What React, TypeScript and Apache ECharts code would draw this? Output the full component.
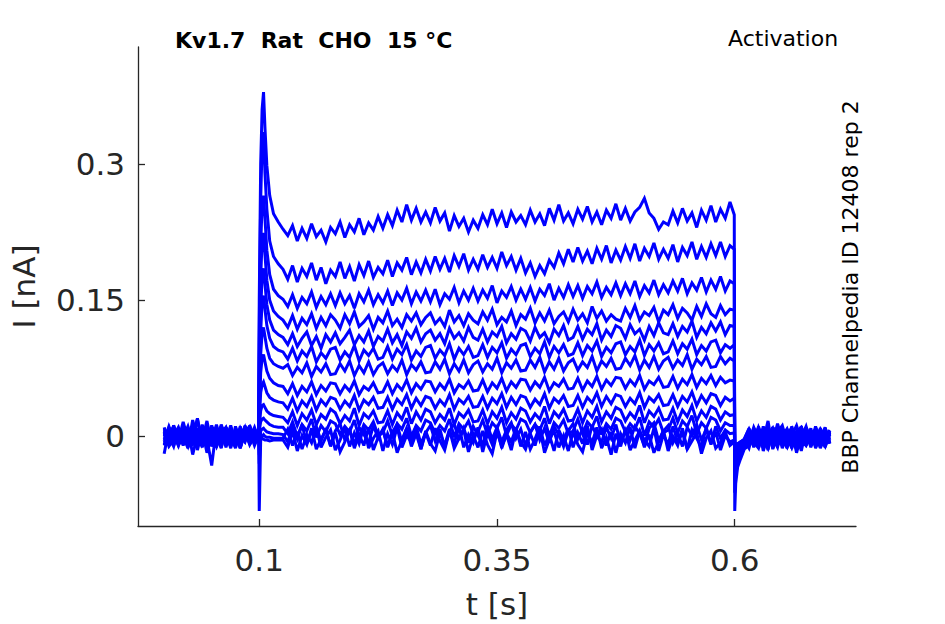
import React, { useEffect, useRef } from "react";
import * as echarts from "echarts";

// sample times [s]
const preTimes = [0, 0.005, 0.01, 0.015, 0.02, 0.025, 0.03, 0.035, 0.04, 0.045,
  0.05, 0.055, 0.06, 0.065, 0.07, 0.075, 0.08, 0.085, 0.09, 0.095];
const onsetTimes = [0.0995, 0.1, 0.1015, 0.103, 0.1045, 0.106, 0.108, 0.111, 0.115, 0.12, 0.125];
const plateauTimes = [
  0.13, 0.135, 0.14, 0.145, 0.15, 0.155, 0.16, 0.165, 0.17, 0.175,
  0.18, 0.185, 0.19, 0.195, 0.2, 0.205, 0.21, 0.215, 0.22, 0.225,
  0.23, 0.235, 0.24, 0.245, 0.25, 0.255, 0.26, 0.265, 0.27, 0.275,
  0.28, 0.285, 0.29, 0.295, 0.3, 0.305, 0.31, 0.315, 0.32, 0.325,
  0.33, 0.335, 0.34, 0.345, 0.35, 0.355, 0.36, 0.365, 0.37, 0.375,
  0.38, 0.385, 0.39, 0.395, 0.4, 0.405, 0.41, 0.415, 0.42, 0.425,
  0.43, 0.435, 0.44, 0.445, 0.45, 0.455, 0.46, 0.465, 0.47, 0.475,
  0.48, 0.485, 0.49, 0.495, 0.5, 0.505, 0.51, 0.515, 0.52, 0.525,
  0.53, 0.535, 0.54, 0.545, 0.55, 0.555, 0.56, 0.565, 0.57, 0.575,
  0.58, 0.585, 0.59, 0.595,
];
const offsetTimes = [0.5995, 0.6, 0.601, 0.603, 0.606, 0.61];
const postTimes = [0.615, 0.62, 0.625, 0.63, 0.635, 0.64, 0.645, 0.65, 0.655,
  0.66, 0.665, 0.67, 0.675, 0.68, 0.685, 0.69, 0.695, 0.7];
const times = [...preTimes, ...onsetTimes, ...plateauTimes, ...offsetTimes, ...postTimes];

// current [nA], one array per voltage step (pre | onset | plateau | offset | post)
const trace1 = [
  0.004, -0.008, 0.012, -0.003, 0.007, -0.011, 0.018, -0.002, 0.006, -0.009,
  0.003, -0.006, 0.010, -0.012, 0.005, 0.000, -0.007, 0.011, -0.004, 0.008,
  0.002, 0.15, 0.30, 0.36, 0.379, 0.34, 0.298, 0.265, 0.245, 0.236, 0.228,
  0.221, 0.232, 0.215, 0.229, 0.218, 0.234, 0.220, 0.227, 0.214, 0.230,
  0.223, 0.236, 0.219, 0.233, 0.225, 0.240, 0.222, 0.235, 0.227, 0.242,
  0.229, 0.244, 0.232, 0.249, 0.236, 0.255, 0.238, 0.251, 0.236, 0.247,
  0.235, 0.252, 0.237, 0.246, 0.226, 0.243, 0.231, 0.240, 0.225, 0.238,
  0.229, 0.244, 0.233, 0.250, 0.234, 0.246, 0.230, 0.247, 0.236, 0.243,
  0.233, 0.249, 0.236, 0.245, 0.232, 0.251, 0.238, 0.255, 0.237, 0.246,
  0.234, 0.250, 0.239, 0.253, 0.236, 0.247, 0.233, 0.249, 0.240, 0.256,
  0.238, 0.251, 0.237, 0.247, 0.252, 0.262, 0.246, 0.240, 0.228, 0.236,
  0.233, 0.248, 0.235, 0.251, 0.237, 0.246, 0.230, 0.249, 0.238, 0.254,
  0.236, 0.250, 0.240, 0.258,
  0.244, -0.082, -0.052, -0.034, -0.025, -0.014,
  -0.010, 0.003, -0.012, 0.008, -0.004, 0.010, -0.009, 0.002, -0.013,
  0.007, -0.002, 0.011, -0.007, 0.004, -0.011, 0.009, -0.003, 0.006,
];
const trace2 = [
  -0.003, 0.009, -0.010, 0.005, -0.001, 0.011, -0.007, 0.003, -0.012, 0.008,
  -0.004, 0.013, -0.006, 0.002, -0.009, 0.007, -0.013, 0.004, -0.002, 0.010,
  -0.004, 0.12, 0.26, 0.32, 0.335, 0.29, 0.25, 0.215, 0.198, 0.19, 0.184,
  0.173, 0.188, 0.170, 0.185, 0.176, 0.191, 0.172, 0.186, 0.168, 0.183,
  0.176, 0.192, 0.174, 0.187, 0.171, 0.189, 0.177, 0.193, 0.175, 0.186,
  0.179, 0.194, 0.176, 0.191, 0.183, 0.197, 0.178, 0.192, 0.180, 0.195,
  0.182, 0.198, 0.184, 0.196, 0.181, 0.199, 0.187, 0.201, 0.183, 0.195,
  0.184, 0.200, 0.186, 0.197, 0.185, 0.203, 0.188, 0.198, 0.183, 0.196,
  0.180, 0.191, 0.176, 0.188, 0.179, 0.194, 0.186, 0.202, 0.190, 0.206,
  0.192, 0.208, 0.193, 0.204, 0.190, 0.207, 0.195, 0.210, 0.191, 0.205,
  0.194, 0.209, 0.196, 0.212, 0.193, 0.207, 0.198, 0.213, 0.195, 0.206,
  0.196, 0.211, 0.192, 0.208, 0.199, 0.214, 0.195, 0.209, 0.197, 0.212,
  0.199, 0.214, 0.198, 0.210,
  0.206, -0.062, -0.042, -0.030, -0.022, -0.012,
  0.004, -0.011, 0.007, -0.005, 0.017, -0.014, 0.002, 0.008, -0.006,
  0.011, -0.009, 0.001, 0.006, -0.012, 0.003, -0.004, 0.010, -0.008,
];
const trace3 = [
  0.007, -0.004, 0.002, -0.010, 0.009, -0.001, 0.005, -0.008, 0.013, -0.003,
  0.001, -0.011, 0.006, 0.010, -0.005, 0.003, -0.009, 0.008, -0.002, 0.004,
  0.002, 0.10, 0.21, 0.255, 0.265, 0.24, 0.205, 0.178, 0.162, 0.155, 0.151,
  0.143, 0.156, 0.141, 0.153, 0.146, 0.159, 0.142, 0.154, 0.145, 0.157,
  0.144, 0.158, 0.146, 0.155, 0.141, 0.157, 0.148, 0.161, 0.145, 0.156,
  0.147, 0.160, 0.144, 0.158, 0.150, 0.163, 0.146, 0.159, 0.149, 0.161,
  0.148, 0.162, 0.145, 0.157, 0.151, 0.164, 0.147, 0.160, 0.150, 0.163,
  0.149, 0.161, 0.152, 0.166, 0.147, 0.160, 0.153, 0.165, 0.150, 0.162,
  0.151, 0.164, 0.149, 0.162, 0.155, 0.168, 0.150, 0.163, 0.153, 0.167,
  0.154, 0.166, 0.152, 0.165, 0.157, 0.170, 0.153, 0.164, 0.156, 0.169,
  0.155, 0.168, 0.157, 0.171, 0.154, 0.166, 0.158, 0.172, 0.156, 0.167,
  0.158, 0.171, 0.160, 0.174, 0.157, 0.169, 0.161, 0.175, 0.159, 0.172,
  0.162, 0.176, 0.160, 0.171,
  0.168, -0.048, -0.034, -0.026, -0.018, -0.010,
  -0.008, 0.005, -0.013, 0.009, -0.003, 0.006, -0.010, 0.002, 0.008,
  -0.007, 0.004, -0.012, 0.010, -0.001, -0.009, 0.005, -0.005, 0.003,
];
const trace4 = [
  -0.007, 0.003, 0.009, -0.005, 0.001, -0.013, 0.007, 0.002, -0.004, 0.017,
  -0.008, 0.004, -0.002, 0.009, -0.011, 0.006, 0.000, -0.006, 0.012, -0.003,
  -0.006, 0.08, 0.175, 0.215, 0.224, 0.20, 0.172, 0.15, 0.138, 0.132, 0.128,
  0.120, 0.133, 0.118, 0.130, 0.123, 0.135, 0.119, 0.131, 0.122, 0.134,
  0.128, 0.119, 0.134, 0.124, 0.137, 0.121, 0.126, 0.133, 0.118, 0.131,
  0.125, 0.138, 0.122, 0.129, 0.120, 0.134, 0.127, 0.136, 0.123, 0.131,
  0.136, 0.124, 0.130, 0.121, 0.139, 0.126, 0.133, 0.122, 0.135, 0.128,
  0.124, 0.137, 0.128, 0.140, 0.123, 0.131, 0.126, 0.138, 0.122, 0.134,
  0.129, 0.141, 0.125, 0.136, 0.127, 0.139, 0.124, 0.132, 0.137, 0.126,
  0.140, 0.128, 0.135, 0.125, 0.143, 0.130, 0.138, 0.127, 0.134, 0.129,
  0.127, 0.141, 0.131, 0.144, 0.128, 0.137, 0.133, 0.142, 0.126, 0.139,
  0.134, 0.145, 0.130, 0.141, 0.136, 0.128, 0.143, 0.132, 0.146, 0.135,
  0.131, 0.144, 0.134, 0.140,
  0.139, -0.038, -0.028, -0.021, -0.016, -0.009,
  0.003, -0.007, 0.010, -0.002, -0.013, 0.006, -0.004, 0.008, -0.009,
  0.001, 0.012, -0.005, -0.010, 0.004, 0.007, -0.008, 0.002, -0.003,
];
const trace5 = [
  0.009, -0.002, -0.006, 0.004, -0.010, 0.006, -0.003, 0.019, -0.007, 0.001,
  0.005, -0.012, 0.008, -0.001, 0.003, -0.009, 0.011, -0.004, 0.000, -0.006,
  0.004, 0.06, 0.14, 0.175, 0.185, 0.168, 0.145, 0.128, 0.117, 0.112, 0.109,
  0.101, 0.113, 0.099, 0.108, 0.115, 0.100, 0.110, 0.097, 0.112, 0.104,
  0.114, 0.102, 0.109, 0.117, 0.101, 0.111, 0.104, 0.116, 0.099, 0.110,
  0.105, 0.118, 0.103, 0.112, 0.100, 0.115, 0.108, 0.119, 0.104, 0.113,
  0.117, 0.106, 0.113, 0.102, 0.119, 0.108, 0.114, 0.105, 0.120, 0.109,
  0.106, 0.118, 0.104, 0.115, 0.110, 0.121, 0.103, 0.113, 0.107, 0.119,
  0.116, 0.105, 0.120, 0.109, 0.114, 0.103, 0.118, 0.111, 0.122, 0.106,
  0.109, 0.121, 0.107, 0.118, 0.112, 0.124, 0.106, 0.117, 0.110, 0.122,
  0.119, 0.108, 0.123, 0.113, 0.118, 0.106, 0.121, 0.111, 0.125, 0.114,
  0.112, 0.124, 0.110, 0.121, 0.115, 0.127, 0.109, 0.120, 0.113, 0.125,
  0.116, 0.126, 0.112, 0.122,
  0.121, -0.032, -0.024, -0.018, -0.013, -0.008,
  -0.004, 0.009, -0.010, 0.002, 0.007, -0.006, 0.011, -0.008, 0.001,
  -0.012, 0.005, 0.008, -0.003, -0.009, 0.006, 0.000, -0.007, 0.004,
];
const trace6 = [
  -0.010, 0.005, 0.001, 0.010, -0.004, -0.008, 0.004, -0.001, 0.007, -0.018,
  0.002, 0.009, -0.006, 0.003, -0.011, 0.006, -0.002, 0.010, -0.008, 0.001,
  -0.002, 0.045, 0.115, 0.148, 0.155, 0.14, 0.122, 0.108, 0.099, 0.095, 0.093,
  0.085, 0.097, 0.083, 0.094, 0.088, 0.099, 0.082, 0.092, 0.086, 0.096,
  0.098, 0.084, 0.093, 0.087, 0.100, 0.083, 0.095, 0.089, 0.097, 0.085,
  0.087, 0.099, 0.085, 0.096, 0.090, 0.101, 0.084, 0.094, 0.088, 0.098,
  0.100, 0.086, 0.095, 0.089, 0.102, 0.085, 0.097, 0.090, 0.099, 0.087,
  0.089, 0.101, 0.087, 0.098, 0.092, 0.103, 0.086, 0.096, 0.090, 0.100,
  0.102, 0.088, 0.097, 0.091, 0.104, 0.087, 0.099, 0.092, 0.101, 0.089,
  0.091, 0.103, 0.089, 0.100, 0.094, 0.105, 0.088, 0.098, 0.092, 0.102,
  0.104, 0.090, 0.099, 0.093, 0.106, 0.089, 0.101, 0.094, 0.103, 0.091,
  0.093, 0.105, 0.091, 0.102, 0.096, 0.107, 0.090, 0.100, 0.094, 0.104,
  0.106, 0.092, 0.101, 0.097,
  0.101, -0.027, -0.021, -0.016, -0.012, -0.007,
  0.006, -0.011, 0.003, -0.005, 0.010, -0.013, 0.004, -0.002, 0.008,
  -0.007, 0.001, 0.009, -0.010, 0.005, -0.004, 0.007, -0.012, 0.002,
];
const trace7 = [
  0.002, -0.009, 0.006, -0.001, 0.011, -0.005, -0.009, 0.005, 0.000, 0.008,
  -0.003, 0.004, -0.012, 0.007, 0.001, -0.006, 0.009, -0.002, 0.005, -0.010,
  0.001, 0.035, 0.09, 0.114, 0.12, 0.11, 0.097, 0.086, 0.08, 0.077, 0.075,
  0.079, 0.067, 0.076, 0.070, 0.081, 0.066, 0.077, 0.071, 0.080, 0.068,
  0.069, 0.080, 0.072, 0.083, 0.067, 0.078, 0.070, 0.082, 0.068, 0.077,
  0.081, 0.069, 0.078, 0.072, 0.084, 0.068, 0.079, 0.073, 0.082, 0.070,
  0.071, 0.082, 0.074, 0.085, 0.069, 0.080, 0.072, 0.084, 0.070, 0.079,
  0.083, 0.071, 0.080, 0.074, 0.086, 0.070, 0.081, 0.075, 0.084, 0.072,
  0.073, 0.084, 0.076, 0.087, 0.071, 0.082, 0.074, 0.086, 0.072, 0.081,
  0.085, 0.073, 0.082, 0.076, 0.088, 0.072, 0.083, 0.077, 0.086, 0.074,
  0.075, 0.086, 0.078, 0.089, 0.073, 0.084, 0.076, 0.088, 0.074, 0.083,
  0.087, 0.075, 0.084, 0.078, 0.090, 0.074, 0.085, 0.079, 0.088, 0.076,
  0.077, 0.088, 0.080, 0.086,
  0.083, -0.023, -0.018, -0.014, -0.010, -0.006,
  -0.009, 0.004, 0.008, -0.012, 0.001, 0.009, -0.007, 0.005, -0.011,
  0.003, -0.004, 0.010, -0.008, 0.002, 0.006, -0.013, 0.000, 0.007,
];
const trace8 = [
  0.007, 0.000, -0.011, 0.008, -0.006, 0.003, 0.010, -0.008, 0.005, -0.004,
  0.012, -0.002, -0.009, 0.004, 0.001, -0.013, 0.006, -0.005, 0.009, -0.001,
  -0.003, 0.025, 0.07, 0.086, 0.09, 0.082, 0.072, 0.064, 0.059, 0.056, 0.055,
  0.047, 0.058, 0.045, 0.055, 0.049, 0.060, 0.046, 0.056, 0.050, 0.059,
  0.058, 0.047, 0.056, 0.050, 0.061, 0.046, 0.055, 0.051, 0.059, 0.048,
  0.049, 0.060, 0.047, 0.057, 0.051, 0.062, 0.048, 0.058, 0.052, 0.061,
  0.060, 0.049, 0.058, 0.052, 0.063, 0.048, 0.057, 0.053, 0.061, 0.050,
  0.051, 0.062, 0.049, 0.059, 0.053, 0.064, 0.050, 0.060, 0.054, 0.063,
  0.062, 0.051, 0.060, 0.054, 0.065, 0.050, 0.059, 0.055, 0.063, 0.052,
  0.053, 0.064, 0.051, 0.061, 0.055, 0.066, 0.052, 0.062, 0.056, 0.065,
  0.064, 0.053, 0.062, 0.056, 0.067, 0.052, 0.061, 0.057, 0.065, 0.054,
  0.055, 0.066, 0.053, 0.063, 0.057, 0.068, 0.054, 0.064, 0.058, 0.067,
  0.056, 0.065, 0.059, 0.062,
  0.061, -0.020, -0.016, -0.013, -0.009, -0.005,
  0.002, -0.006, -0.013, 0.007, -0.003, 0.010, -0.009, 0.001, 0.006,
  -0.011, 0.004, -0.002, 0.008, -0.007, 0.003, -0.010, 0.009, -0.004,
];
const trace9 = [
  -0.005, 0.011, -0.002, -0.007, 0.004, 0.009, -0.020, 0.001, 0.006, -0.008,
  0.003, -0.010, 0.007, -0.003, 0.012, -0.006, 0.002, 0.008, -0.009, 0.005,
  0.005, 0.018, 0.048, 0.057, 0.06, 0.055, 0.048, 0.043, 0.04, 0.038, 0.037,
  0.030, 0.042, 0.028, 0.039, 0.033, 0.044, 0.029, 0.040, 0.034, 0.043,
  0.041, 0.030, 0.039, 0.033, 0.045, 0.029, 0.040, 0.035, 0.043, 0.031,
  0.032, 0.043, 0.030, 0.041, 0.035, 0.046, 0.031, 0.042, 0.034, 0.044,
  0.042, 0.031, 0.040, 0.034, 0.046, 0.030, 0.041, 0.036, 0.044, 0.032,
  0.033, 0.044, 0.031, 0.042, 0.036, 0.047, 0.032, 0.043, 0.035, 0.045,
  0.043, 0.032, 0.041, 0.035, 0.047, 0.031, 0.042, 0.037, 0.045, 0.033,
  0.034, 0.045, 0.032, 0.043, 0.037, 0.048, 0.033, 0.044, 0.036, 0.046,
  0.044, 0.033, 0.042, 0.036, 0.048, 0.032, 0.043, 0.038, 0.046, 0.034,
  0.035, 0.046, 0.033, 0.044, 0.038, 0.049, 0.034, 0.045, 0.037, 0.047,
  0.045, 0.034, 0.043, 0.039,
  0.042, -0.018, -0.015, -0.012, -0.009, -0.004,
  -0.007, 0.010, -0.002, 0.004, -0.010, 0.002, 0.007, -0.013, 0.003,
  0.009, -0.005, -0.001, 0.011, -0.008, 0.005, -0.003, -0.011, 0.006,
];
const trace10 = [
  0.010, -0.007, 0.004, -0.010, 0.000, 0.007, -0.004, 0.009, -0.011, 0.003,
  0.006, -0.005, 0.013, -0.002, -0.008, 0.004, -0.012, 0.008, 0.001, -0.006,
  -0.001, 0.01, 0.028, 0.034, 0.035, 0.032, 0.028, 0.025, 0.023, 0.022, 0.021,
  0.015, 0.027, 0.012, 0.025, 0.018, 0.029, 0.013, 0.024, 0.019, 0.030,
  0.026, 0.014, 0.023, 0.017, 0.031, 0.012, 0.025, 0.020, 0.028, 0.015,
  0.016, 0.028, 0.013, 0.026, 0.019, 0.032, 0.014, 0.027, 0.018, 0.030,
  0.027, 0.015, 0.024, 0.018, 0.031, 0.013, 0.026, 0.021, 0.029, 0.016,
  0.017, 0.029, 0.014, 0.027, 0.020, 0.032, 0.015, 0.026, 0.019, 0.031,
  0.028, 0.016, 0.025, 0.019, 0.033, 0.014, 0.027, 0.021, 0.030, 0.017,
  0.018, 0.030, 0.015, 0.028, 0.021, 0.033, 0.016, 0.027, 0.020, 0.032,
  0.029, 0.017, 0.026, 0.020, 0.034, 0.015, 0.028, 0.022, 0.031, 0.018,
  0.019, 0.031, 0.016, 0.029, 0.022, 0.034, 0.017, 0.028, 0.021, 0.033,
  0.030, 0.018, 0.027, 0.023,
  0.024, -0.016, -0.013, -0.011, -0.008, -0.003,
  0.008, -0.004, 0.005, -0.009, 0.006, -0.002, -0.012, 0.009, -0.005,
  0.003, -0.010, 0.007, 0.000, -0.007, 0.011, -0.003, 0.004, -0.008,
];
const trace11 = [
  -0.009, 0.004, 0.010, -0.003, -0.008, 0.001, 0.012, -0.006, 0.002, 0.007,
  -0.011, 0.005, -0.001, 0.009, -0.005, 0.003, -0.013, 0.006, 0.011, -0.004,
  0.003, 0.006, 0.016, 0.019, 0.02, 0.018, 0.016, 0.013, 0.011, 0.01, 0.01,
  0.003, 0.016, 0.000, 0.013, 0.006, 0.019, -0.001, 0.012, 0.005, 0.017,
  0.014, 0.002, 0.011, 0.005, 0.018, -0.002, 0.013, 0.007, 0.016, 0.001,
  0.004, 0.017, 0.001, 0.014, 0.008, 0.020, 0.000, 0.012, 0.006, 0.018,
  0.015, 0.003, 0.012, 0.006, 0.019, -0.001, 0.014, 0.008, 0.017, 0.002,
  0.005, 0.018, 0.002, 0.015, 0.009, 0.021, 0.001, 0.013, 0.007, 0.019,
  0.016, 0.004, 0.013, 0.007, 0.020, 0.000, 0.015, 0.009, 0.018, 0.003,
  0.006, 0.019, 0.003, 0.016, 0.010, 0.022, 0.002, 0.014, 0.008, 0.020,
  0.017, 0.005, 0.014, 0.008, 0.021, 0.001, 0.016, 0.010, 0.019, 0.004,
  0.007, 0.020, 0.004, 0.017, 0.011, 0.023, 0.003, 0.015, 0.009, 0.021,
  0.018, 0.006, 0.015, 0.012,
  0.012, -0.014, -0.012, -0.010, -0.007, -0.004,
  -0.003, 0.006, -0.011, 0.011, -0.006, 0.003, 0.008, -0.008, 0.000,
  -0.013, 0.005, 0.010, -0.004, 0.002, -0.009, 0.007, -0.001, -0.006,
];
const trace12 = [
  0.005, -0.011, -0.004, 0.008, 0.003, -0.006, -0.002, 0.020, -0.009, 0.000,
  0.007, -0.003, 0.011, -0.008, 0.002, -0.012, 0.006, -0.005, 0.009, -0.001,
  -0.005, -0.02, 0.006, 0.008, 0.009, 0.007, 0.005, 0.004, 0.003, 0.003, 0.002,
  -0.006, 0.010, -0.003, 0.013, -0.008, 0.005, 0.011, -0.005, 0.008, -0.010,
  0.006, 0.014, -0.004, 0.007, -0.009, 0.010, 0.002, -0.007, 0.012, -0.002,
  0.008, -0.011, 0.005, 0.013, -0.006, 0.009, -0.003, 0.011, -0.008, 0.004,
  0.012, -0.005, 0.008, -0.012, 0.006, 0.014, -0.004, 0.009, -0.007, 0.011,
  0.001, -0.009, 0.012, -0.003, 0.010, -0.006, 0.007, 0.015, -0.002, 0.008,
  -0.010, 0.005, 0.013, -0.004, 0.009, -0.007, 0.011, 0.002, -0.011, 0.006,
  0.014, -0.003, 0.008, -0.009, 0.012, 0.000, -0.006, 0.010, -0.002, 0.013,
  -0.008, 0.007, -0.004, 0.011, 0.003, -0.010, 0.009, 0.015, -0.005, 0.006,
  0.012, -0.007, 0.004, -0.011, 0.010, 0.001, 0.013, -0.004, 0.008, -0.009,
  0.011, -0.002, 0.007, 0.003,
  0.004, -0.012, -0.010, -0.009, -0.006, -0.003,
  0.009, -0.012, 0.002, -0.004, 0.010, -0.009, 0.005, 0.012, -0.006,
  0.001, -0.014, 0.007, -0.003, 0.004, -0.010, 0.008, -0.007, 0.003,
];
const trace13 = [
  -0.019, 0.008, 0.002, -0.005, 0.016, -0.003, 0.006, -0.010, 0.004, 0.009,
  -0.007, 0.001, -0.013, 0.010, -0.002, 0.005, -0.009, 0.012, -0.004, 0.003,
  0.002, -0.03, 0.001, 0.0, 0.002, 0.0, -0.001, -0.001, -0.002, -0.002, -0.002,
  0.008, -0.010, 0.005, -0.014, 0.002, -0.007, 0.010, -0.012, -0.001, 0.007,
  -0.015, -0.004, 0.009, -0.011, 0.004, -0.008, 0.011, -0.013, -0.002, 0.006,
  -0.016, 0.003, -0.009, 0.010, -0.012, 0.001, -0.006, 0.008, -0.014, 0.004,
  -0.010, 0.009, -0.005, -0.015, 0.006, -0.008, 0.011, -0.012, 0.002, -0.007,
  0.010, -0.017, 0.004, -0.009, 0.008, -0.013, 0.003, -0.006, 0.009, -0.011,
  0.005, -0.014, -0.003, 0.011, -0.010, 0.002, -0.016, 0.007, -0.005, 0.009,
  -0.012, 0.004, -0.008, 0.012, -0.015, 0.001, 0.008, -0.010, 0.005, -0.018,
  0.003, -0.007, 0.010, -0.013, 0.006, -0.004, -0.011, 0.009, -0.016, 0.002,
  -0.009, 0.011, -0.006, 0.004, -0.014, 0.007, -0.002, -0.012, 0.010, -0.008,
  0.005, -0.015, 0.001, -0.006,
  -0.004, -0.011, -0.009, -0.008, -0.006, -0.004,
  -0.013, 0.007, -0.005, 0.004, -0.015, 0.010, -0.002, -0.008, 0.006,
  -0.011, 0.002, -0.016, 0.008, -0.004, 0.003, -0.012, 0.005, -0.007,
];
const trace14 = [
  0.003, -0.004, 0.012, -0.008, 0.000, -0.011, 0.009, -0.015, 0.006, -0.002,
  -0.032, 0.010, -0.006, 0.004, -0.013, 0.011, -0.003, 0.007, -0.009, 0.001,
  -0.004, -0.082, -0.004, -0.002, -0.003, -0.004, -0.004, -0.005, -0.004, -0.004, -0.004,
  -0.012, 0.006, -0.016, 0.001, -0.009, 0.009, -0.014, -0.003, 0.007, -0.011,
  0.004, -0.017, -0.006, 0.008, -0.013, 0.002, -0.010, 0.010, -0.015, -0.001,
  0.007, -0.012, 0.005, -0.018, -0.004, 0.009, -0.011, 0.003, -0.014, 0.006,
  -0.008, -0.016, 0.004, -0.010, 0.008, -0.013, -0.002, 0.007, -0.017, 0.001,
  -0.012, 0.006, -0.009, -0.019, 0.005, -0.011, 0.002, -0.015, 0.008, -0.006,
  -0.014, 0.003, -0.010, 0.009, -0.018, -0.003, 0.006, -0.012, 0.001, -0.016,
  0.005, -0.009, -0.017, 0.004, -0.007, 0.010, -0.013, -0.001, -0.020, 0.003,
  -0.011, 0.008, -0.015, -0.004, 0.006, -0.012, 0.002, -0.018, -0.006, 0.007,
  -0.016, 0.000, -0.010, 0.009, -0.014, -0.005, 0.004, -0.019, -0.002, 0.006,
  -0.013, -0.007, 0.005, -0.010,
  -0.006, -0.010, -0.009, -0.008, -0.007, -0.005,
  0.004, -0.010, 0.011, -0.016, 0.001, -0.007, 0.014, -0.004, -0.012,
  0.006, -0.018, 0.002, -0.008, 0.009, -0.013, 0.000, -0.006, 0.004,
];

const traces = [
  trace1, trace2, trace3, trace4, trace5, trace6, trace7,
  trace8, trace9, trace10, trace11, trace12, trace13, trace14,
];

const xTicks = [0.1, 0.35, 0.6];
const yTicks = [0, 0.15, 0.3];

const titleText = "Kv1.7  Rat  CHO  15 °C";
const protocolText = "Activation";
const sourceText = "BBP Channelpedia ID 12408 rep 2";

const AXIS_COLOR = "#262626";
const FONT = "DejaVu Sans";

export default function App() {
  const ref = useRef<HTMLDivElement>(null);

  useEffect(() => {
    if (!ref.current) return;
    const chart = echarts.init(ref.current, undefined, { renderer: "svg" });

    const series = traces.map((vals, k) => ({
      type: "line",
      name: "trace" + (k + 1),
      data: times
        .map((t, i) => [t, vals[i]])
        .filter((d) => d[1] !== undefined),
      showSymbol: false,
      symbol: "none",
      silent: true,
      lineStyle: { color: "#0000ff", width: 3, join: "miter", miterLimit: 3 },
      z: 2,
    }));

    const axisCommon = {
      type: "value",
      splitLine: { show: false },
      axisLine: { show: true, onZero: false, lineStyle: { color: AXIS_COLOR, width: 1.3 } },
    };

    chart.setOption({
      animation: false,
      backgroundColor: "#ffffff",
      grid: { left: 138, right: 89, top: 47, bottom: 97.5, containLabel: false },
      xAxis: {
        ...axisCommon,
        min: -0.0275,
        max: 0.7275,
        axisTick: {
          show: true,
          inside: true,
          length: 7,
          customValues: xTicks,
          lineStyle: { color: AXIS_COLOR, width: 1.3 },
        },
        axisLabel: {
          customValues: xTicks,
          formatter: (v: number) => String(v),
          fontSize: 31,
          fontFamily: FONT,
          color: AXIS_COLOR,
          margin: 18,
        },
        name: "t [s]",
        nameLocation: "middle",
        nameGap: 62,
        nameTextStyle: { fontSize: 31, fontFamily: FONT, color: AXIS_COLOR },
      },
      yAxis: {
        ...axisCommon,
        min: -0.0986,
        max: 0.4286,
        axisTick: {
          show: true,
          inside: true,
          length: 7,
          customValues: yTicks,
          lineStyle: { color: AXIS_COLOR, width: 1.3 },
        },
        axisLabel: {
          customValues: yTicks,
          formatter: (v: number) => String(v),
          fontSize: 31,
          fontFamily: FONT,
          color: AXIS_COLOR,
          margin: 13,
        },
        name: "I [nA]",
        nameLocation: "middle",
        nameGap: 99,
        nameRotate: 90,
        nameTextStyle: { fontSize: 31, fontFamily: FONT, color: AXIS_COLOR },
      },
      graphic: [
        {
          type: "text",
          left: 175,
          top: 29,
          style: {
            text: titleText,
            fontSize: 22,
            fontWeight: "bold",
            fontFamily: FONT,
            fill: "#000000",
          },
        },
        {
          type: "text",
          left: 728,
          top: 27,
          style: {
            text: protocolText,
            fontSize: 22,
            fontFamily: FONT,
            fill: "#000000",
          },
        },
        {
          type: "text",
          x: 850,
          y: 287,
          rotation: Math.PI / 2,
          style: {
            text: sourceText,
            fontSize: 22,
            fontFamily: FONT,
            fill: "#000000",
            align: "center",
            verticalAlign: "middle",
          },
        },
      ],
      series,
    });

    return () => chart.dispose();
  }, []);

  return (
    <div
      ref={ref}
      style={{ position: "fixed", left: 0, top: 0, width: 945, height: 624, background: "#fff" }}
    />
  );
}
